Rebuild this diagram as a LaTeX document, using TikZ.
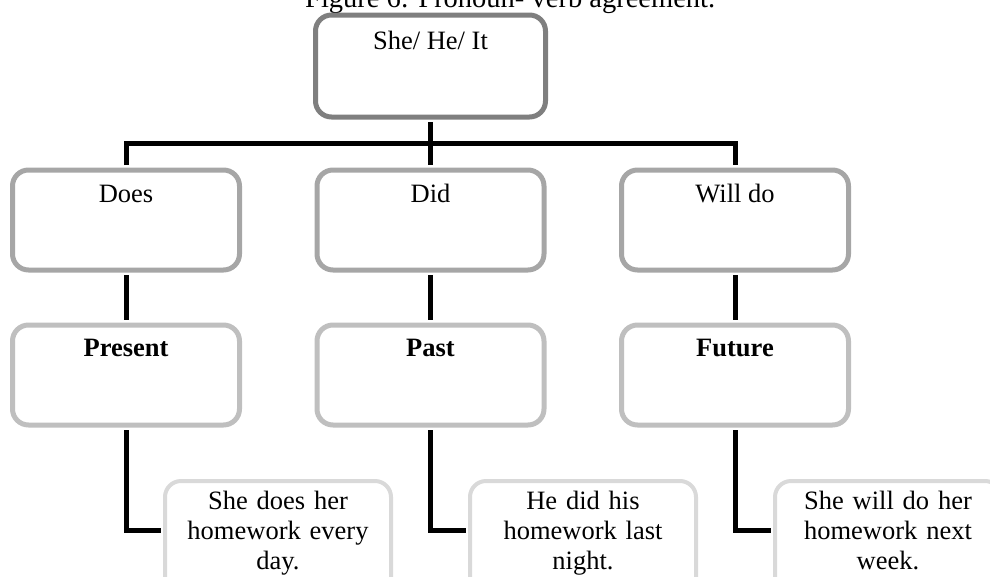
\documentclass[tikz,border=0pt]{standalone}
\usepackage{fontspec}
\setmainfont{Liberation Serif}
\definecolor{lvA}{HTML}{7F7F7F}
\definecolor{lvB}{HTML}{A6A6A6}
\definecolor{lvC}{HTML}{BFBFBF}
\definecolor{lvD}{HTML}{D9D9D9}
\begin{document}
\begin{tikzpicture}[x=1pt,y=-1pt,
  every node/.style={font=\fontsize{26.5pt}{30pt}\selectfont},
  box/.style={draw, fill=white, rounded corners=16pt, inner sep=0pt,
    align=center, anchor=north},
  topbox/.style={box, draw=lvA, line width=5pt, minimum width=230pt,
    text height=34.5pt, text depth=67.5pt},
  verbbox/.style={box, draw=lvB, line width=5pt, minimum width=227pt,
    text height=32.5pt, text depth=67.5pt},
  tensebox/.style={box, draw=lvC, line width=5pt, minimum width=227pt,
    text height=31.5pt, text depth=68.5pt, font=\fontsize{26.5pt}{30pt}\selectfont\bfseries},
  examplebox/.style={box, draw=lvD, line width=4pt, text width=226pt,
    text height=28pt, text depth=85pt},
  link/.style={draw=black, line width=5pt}
]
\clip (0,0) rectangle (990,576);

% caption
\node[anchor=base west, inner sep=0pt, font=\fontsize{28.5pt}{30pt}\selectfont] (title) at (305,7) {Figure 6: Pronoun- verb agreement.};

% pronoun
\node[topbox] (pron) at (430.5,12.5) {She/ He/ It};

% auxiliaries
\node[verbbox] (does) at (126,167.5) {Does};
\node[verbbox] (did) at (430.5,167.5) {Did};
\node[verbbox] (will) at (735,167.5) {Will do};

% tenses
\node[tensebox] (present) at (126,322.5) {Present};
\node[tensebox] (past) at (430.5,322.5) {Past};
\node[tensebox] (future) at (735,322.5) {Future};

% example sentences
\node[examplebox] (ex1) at (278,479) {She does her\\homework every\\day.};
\node[examplebox] (ex2) at (583,479) {He did his\\homework last\\night.};
\node[examplebox] (ex3) at (888,479) {She will do her\\homework next\\week.};

% connectors
\coordinate (bus) at (430.5,143);
\draw[link, shorten <=2.5pt] (pron.south) -- (bus);
\draw[link, shorten <=2.5pt, shorten >=2.5pt] (does.north) |- (bus) -| (will.north);
\draw[link, shorten >=2.5pt] (bus) -- (did.north);

\draw[link, shorten <=2.5pt, shorten >=2.5pt] (does.south) -- (present.north);
\draw[link, shorten <=2.5pt, shorten >=2.5pt] (did.south) -- (past.north);
\draw[link, shorten <=2.5pt, shorten >=2.5pt] (will.south) -- (future.north);

\draw[link, shorten <=2.5pt, shorten >=2pt] (present.south) |- ([yshift=7.5pt]ex1.west);
\draw[link, shorten <=2.5pt, shorten >=2pt] (past.south) |- ([yshift=7.5pt]ex2.west);
\draw[link, shorten <=2.5pt, shorten >=2pt] (future.south) |- ([yshift=7.5pt]ex3.west);
\end{tikzpicture}
\end{document}
